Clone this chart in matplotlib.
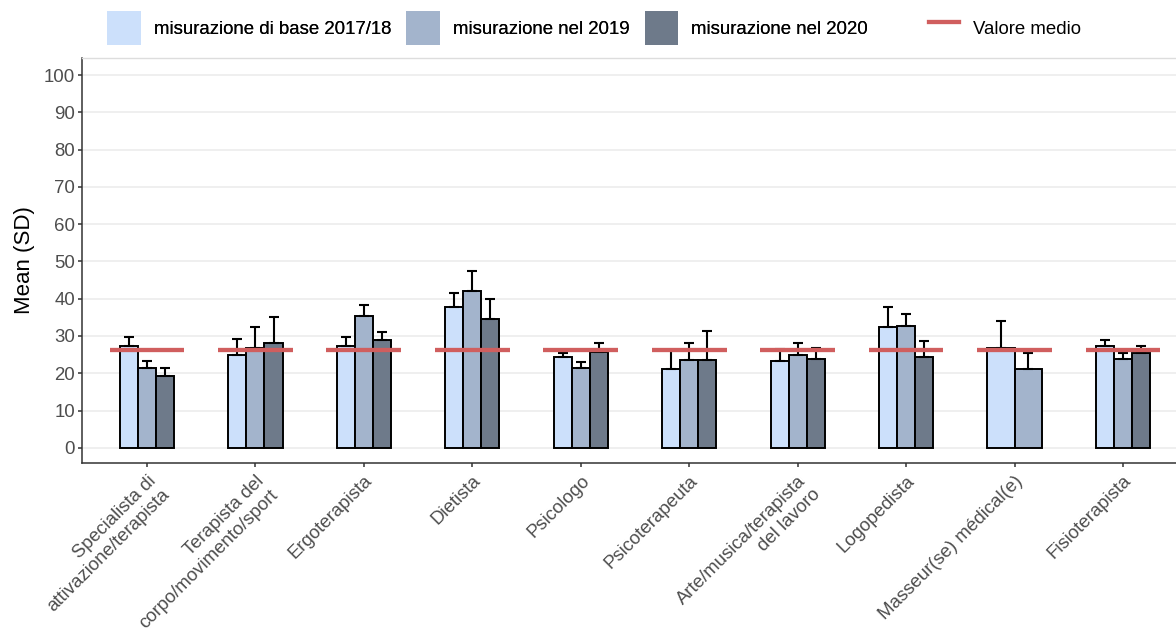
import numpy as np
import matplotlib
matplotlib.use("Agg")
import matplotlib.pyplot as plt
from matplotlib.patches import Patch
from matplotlib.lines import Line2D

plt.rcParams['font.family'] = ['Liberation Sans', 'DejaVu Sans']

# data
categories = ["Specialista di\nattivazione/terapista", "Terapista del\ncorpo/movimento/sport",
              "Ergoterapista", "Dietista", "Psicologo", "Psicoterapeuta",
              "Arte/musica/terapista\ndel lavoro", "Logopedista", "Masseur(se) médical(e)",
              "Fisioterapista"]
series = ["misurazione di base 2017/18", "misurazione nel 2019", "misurazione nel 2020"]
mean_base = [27.2, 24.9, 27.3, 37.9, 24.4, 21.1, 23.4, 32.4, 26.9, 27.4]
mean_2019 = [21.3, 26.9, 35.4, 42.1, 21.4, 23.6, 24.9, 32.7, 21.1, 23.9]
mean_2020 = [19.3, 28.2, 29.0, 34.5, 25.8, 23.6, 23.7, 24.3, np.nan, 25.4]
sd_base = [2.6, 4.3, 2.5, 3.5, 1.1, 5.2, 3.2, 5.3, 7.1, 1.6]
sd_2019 = [1.9, 5.6, 2.9, 5.3, 1.7, 4.5, 3.3, 3.2, 4.3, 1.5]
sd_2020 = [2.0, 6.9, 2.1, 5.4, 2.3, 7.8, 3.1, 4.4, np.nan, 1.9]
overall_mean = 26.1

colors = ["#cce0fb", "#a3b4cc", "#6e7a8a"]
red = "#d05e5e"

means = np.array([mean_base, mean_2019, mean_2020])
sds = np.array([sd_base, sd_2019, sd_2020])

fig = plt.figure(figsize=(11.76, 6.34), dpi=100)
ax = fig.add_axes([0.0697, 0.2702, 0.9405, 0.6379])

group_w = 0.5
for i in range(len(categories)):
    present = [k for k in range(3) if not np.isnan(means[k, i])]
    n = len(present)
    w = group_w / n
    for j, k in enumerate(present):
        x = i - group_w / 2 + w * (j + 0.5)
        ax.bar(x, means[k, i], width=w, color=colors[k], edgecolor="black",
               linewidth=1.4, zorder=2)
        ax.errorbar(x, means[k, i], yerr=[[0], [sds[k, i]]], fmt="none",
                    ecolor="black", elinewidth=1.5, capsize=3.5, capthick=1.5, zorder=3)
    ax.plot([i - 0.345, i + 0.345], [overall_mean, overall_mean], color=red,
            linewidth=3.1, solid_capstyle="butt", zorder=4)

ax.set_xlim(-0.6, 9.6)
ax.set_ylim(-4, 104.5)
ax.set_yticks(np.arange(0, 101, 10))
ax.set_xticks(range(len(categories)))
ax.set_xticklabels(categories, rotation=45, ha="right", va="top",
                   rotation_mode="anchor", multialignment="right")
ax.tick_params(axis="both", labelsize=13.4, colors="#333333", labelcolor="#4d4d4d",
               length=3, width=1.1, pad=2)
ax.tick_params(axis="x", pad=4)
ax.grid(axis="y", color="#ebebeb", linewidth=1.1, zorder=0)
ax.set_axisbelow(True)
ax.set_ylabel("Mean (SD)", fontsize=16, labelpad=6)

for s in ["left", "bottom"]:
    ax.spines[s].set_color("#333333")
    ax.spines[s].set_linewidth(1.1)
ax.spines["right"].set_visible(False)
ax.spines["top"].set_color("#dddddd")
ax.spines["top"].set_linewidth(1.0)

fill_handles = [Patch(facecolor=c, edgecolor="none") for c in colors]
leg1 = fig.legend(fill_handles, series, ncol=3, loc="upper left",
                  bbox_to_anchor=(107 / 1176, 1 - 11 / 634), frameon=False,
                  fontsize=13.4, handlelength=1.82, handleheight=2.45,
                  handletextpad=0.7, columnspacing=0.8, borderpad=0, borderaxespad=0)
leg2 = fig.legend([Line2D([0], [0], color=red, linewidth=3.1)], ["Valore medio"],
                  loc="upper left", bbox_to_anchor=(929 / 1176, 1 - 11 / 634),
                  frameon=False, fontsize=13.4, handlelength=1.6, handleheight=2.45,
                  handletextpad=0.75, borderpad=0, borderaxespad=0)
fig.add_artist(leg1)

fig.savefig("out.png", dpi=100)
